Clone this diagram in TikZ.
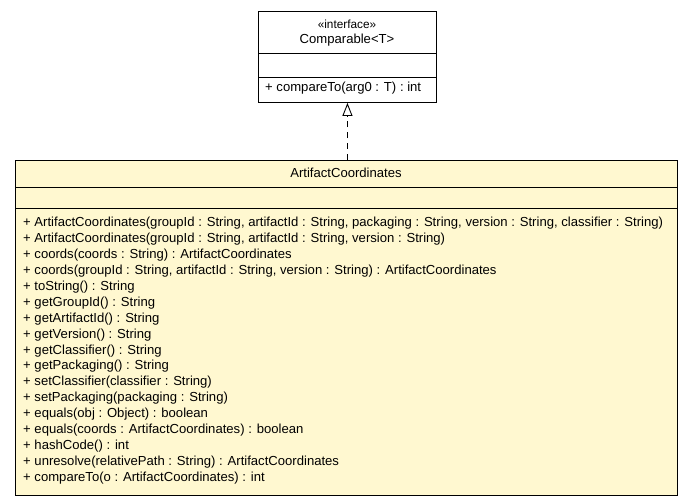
\documentclass[tikz,border=0pt]{standalone}
\usepackage{fontspec}
\setmainfont{Liberation Sans}
\usetikzlibrary{arrows.meta}
\definecolor{notefill}{HTML}{FFF8D0}
\begin{document}
\begin{tikzpicture}[x=1pt,y=-1pt,
  umlbox/.style={draw=black, line width=0.9pt, anchor=north west, inner sep=0pt},
  txt/.style={font=\fontsize{13.1}{15}\selectfont, inner sep=0pt, anchor=base west},
  ctxt/.style={font=\fontsize{13.1}{15}\selectfont, inner sep=0pt, anchor=base},
  stereo/.style={font=\fontsize{11.8}{13}\selectfont, inner sep=0pt, anchor=base}]
\useasboundingbox (0,0) rectangle (693,501);
% Comparable interface
\node[umlbox, fill=white, minimum width=178pt, minimum height=91pt] (cmp) at (258,11) {};
\draw[line width=0.9pt] (258,53) -- (436,53);
\draw[line width=0.9pt] (258,77) -- (436,77);
\node[stereo] (cmpst) at (347,28.5) {«interface»};
\node[ctxt] (cmpname) at (347,43.5) {Comparable<T>};
\node[txt] (cmpm) at (265,91.5) {+ compareTo(arg0 : T) : int};
% ArtifactCoordinates
\node[umlbox, fill=notefill, minimum width=662pt, minimum height=335pt] (ac) at (15,160) {};
\draw[line width=0.9pt] (15,187) -- (677,187);
\draw[line width=0.9pt] (15,208) -- (677,208);
\node[ctxt] (acname) at (346,177) {ArtifactCoordinates};
\foreach \i/\t in {
0/{+ ArtifactCoordinates(groupId : String, artifactId : String, packaging : String, version : String, classifier : String)},
1/{+ ArtifactCoordinates(groupId : String, artifactId : String, version : String)},
2/{+ coords(coords : String) : ArtifactCoordinates},
3/{+ coords(groupId : String, artifactId : String, version : String) : ArtifactCoordinates},
4/{+ toString() : String},
5/{+ getGroupId() : String},
6/{+ getArtifactId() : String},
7/{+ getVersion() : String},
8/{+ getClassifier() : String},
9/{+ getPackaging() : String},
10/{+ setClassifier(classifier : String)},
11/{+ setPackaging(packaging : String)},
12/{+ equals(obj : Object) : boolean},
13/{+ equals(coords : ArtifactCoordinates) : boolean},
14/{+ hashCode() : int},
15/{+ unresolve(relativePath : String) : ArtifactCoordinates},
16/{+ compareTo(o : ArtifactCoordinates) : int}}
{\node[txt] (m\i) at (23,{226.5+15.94*\i}) {\t};}
% realization
\draw[line width=0.9pt, dash pattern=on 6pt off 5pt, -{Triangle[open, length=13pt, width=10pt, line width=0.9pt]}] (ac.north -| cmp.south) -- (cmp.south);
\end{tikzpicture}
\end{document}
